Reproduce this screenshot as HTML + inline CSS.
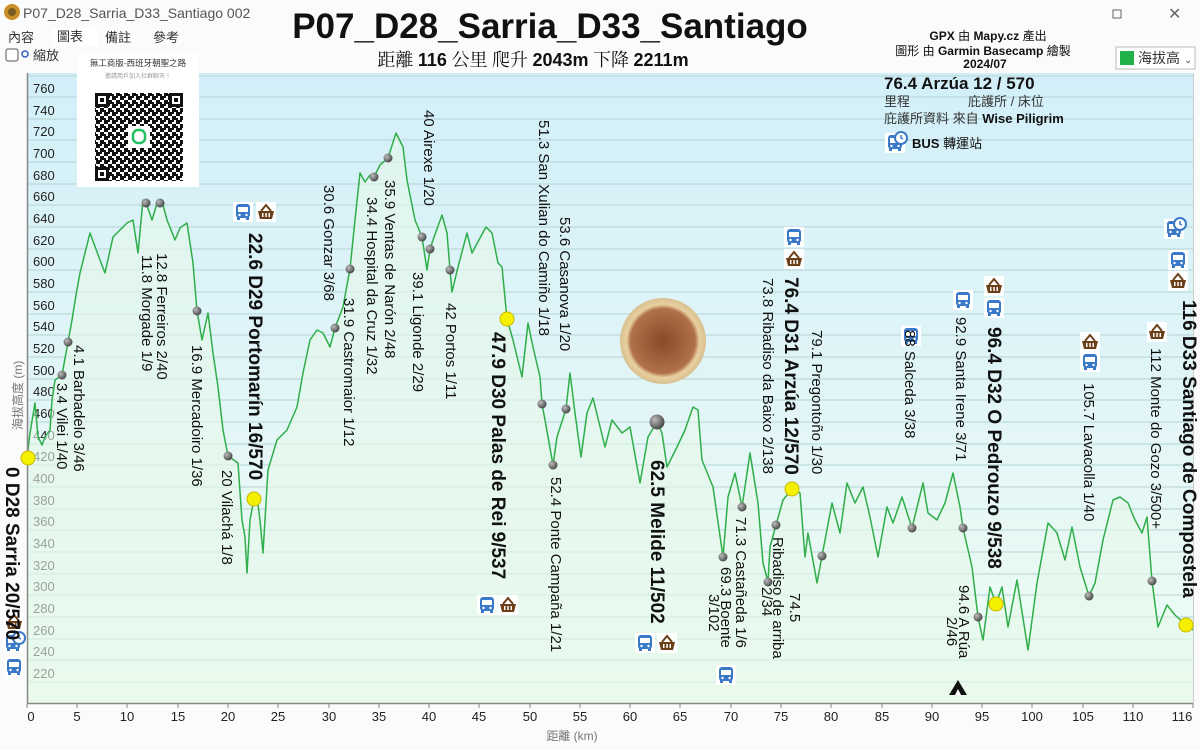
<!DOCTYPE html>
<html><head><meta charset="utf-8"><style>
html,body{margin:0;padding:0;width:1200px;height:750px;overflow:hidden;background:#fff;font-family:"Liberation Sans","Noto Sans CJK TC",sans-serif;}
</style></head><body>
<svg width="1200" height="750" viewBox="0 0 1200 750" xmlns="http://www.w3.org/2000/svg" font-family="Liberation Sans, Noto Sans CJK TC, sans-serif">
<defs>
<linearGradient id="sky" x1="0" y1="0" x2="0" y2="1">
<stop offset="0" stop-color="#d2eff9"/><stop offset="0.55" stop-color="#e3f6f7"/><stop offset="1" stop-color="#eefcf2"/>
</linearGradient>
<radialGradient id="gdot" cx="0.35" cy="0.35" r="0.7"><stop offset="0" stop-color="#bbb"/><stop offset="1" stop-color="#444"/></radialGradient>
<radialGradient id="food" cx="0.5" cy="0.5" r="0.5"><stop offset="0" stop-color="#8a4a2a"/><stop offset="0.75" stop-color="#b0704a"/><stop offset="0.85" stop-color="#e8d0a0"/><stop offset="1" stop-color="#d8c090"/></radialGradient>
<pattern id="qr" width="8" height="8" patternUnits="userSpaceOnUse">
<rect width="8" height="8" fill="#fff"/><rect x="0" y="0" width="4" height="4" fill="#111"/><rect x="4" y="4" width="4" height="4" fill="#111"/><rect x="4" y="0" width="2" height="2" fill="#111"/><rect x="0" y="6" width="2" height="2" fill="#111"/>
</pattern>
<g id="bus"><rect x="-10" y="-10" width="20" height="20" fill="#fff"/><rect x="-7" y="-8" width="14" height="14" rx="3" fill="#3a78c8"/><rect x="-5" y="-5" width="10" height="5" fill="#fff"/><rect x="-6" y="5" width="3" height="3" fill="#3a78c8"/><rect x="3" y="5" width="3" height="3" fill="#3a78c8"/><circle cx="-3.5" cy="3" r="1.2" fill="#fff"/><circle cx="3.5" cy="3" r="1.2" fill="#fff"/></g>
<g id="bask"><rect x="-10" y="-10" width="20" height="20" fill="#fff"/><path d="M-8,-1 L8,-1 L6,7 L-6,7 Z" fill="#6b3f18"/><path d="M-5,-1 L0,-7 L5,-1" stroke="#6b3f18" stroke-width="2" fill="none"/><rect x="-4" y="1" width="1.5" height="4" fill="#fff"/><rect x="-0.7" y="1" width="1.5" height="4" fill="#fff"/><rect x="2.5" y="1" width="1.5" height="4" fill="#fff"/></g>
<g id="busc"><use href="#bus"/><circle cx="6" cy="-5" r="6" fill="#fff" stroke="#3a78c8" stroke-width="2"/><path d="M6,-8 L6,-5 L8,-4" stroke="#3a78c8" stroke-width="1.5" fill="none"/></g>
</defs>

<!-- window chrome -->
<rect x="0" y="0" width="1200" height="750" fill="#fbfbfb"/>
<circle cx="12" cy="12" r="8" fill="#c8902a"/><circle cx="12" cy="12" r="4" fill="#7a5a20"/>
<text x="23" y="18" font-size="14" fill="#555">P07_D28_Sarria_D33_Santiago 002</text>
<rect x="1113" y="10" width="8" height="8" fill="none" stroke="#666"/>
<text x="1168" y="19" font-size="16" fill="#666">✕</text>
<rect x="52" y="28" width="46" height="18" fill="#fff"/>
<text x="8" y="42" font-size="13" fill="#333">內容</text>
<text x="57" y="41" font-size="13" fill="#333">圖表</text>
<text x="105" y="42" font-size="13" fill="#333">備註</text>
<text x="153" y="42" font-size="13" fill="#333">參考</text>
<rect x="6" y="49" width="12" height="12" rx="2" fill="#fff" stroke="#555"/>
<circle cx="25" cy="54" r="3" fill="none" stroke="#3060c0" stroke-width="1.5"/>
<text x="33" y="60" font-size="13" fill="#333">縮放</text>

<!-- plot area -->
<rect x="27" y="73" width="1166" height="630" fill="url(#sky)"/>
<g stroke="#b4d4d4" stroke-width="1">
<line x1="27" y1="76" x2="1193" y2="76"/>
<line x1="27" y1="97" x2="1193" y2="97"/><line x1="27" y1="119" x2="1193" y2="119"/><line x1="27" y1="140" x2="1193" y2="140"/><line x1="27" y1="162" x2="1193" y2="162"/><line x1="27" y1="184" x2="1193" y2="184"/><line x1="27" y1="205" x2="1193" y2="205"/><line x1="27" y1="227" x2="1193" y2="227"/><line x1="27" y1="249" x2="1193" y2="249"/><line x1="27" y1="270" x2="1193" y2="270"/><line x1="27" y1="292" x2="1193" y2="292"/><line x1="27" y1="314" x2="1193" y2="314"/><line x1="27" y1="335" x2="1193" y2="335"/><line x1="27" y1="357" x2="1193" y2="357"/><line x1="27" y1="379" x2="1193" y2="379"/><line x1="27" y1="400" x2="1193" y2="400"/><line x1="27" y1="422" x2="1193" y2="422"/><line x1="27" y1="444" x2="1193" y2="444"/><line x1="27" y1="465" x2="1193" y2="465"/><line x1="27" y1="487" x2="1193" y2="487"/><line x1="27" y1="509" x2="1193" y2="509"/><line x1="27" y1="530" x2="1193" y2="530"/><line x1="27" y1="552" x2="1193" y2="552"/><line x1="27" y1="574" x2="1193" y2="574"/><line x1="27" y1="595" x2="1193" y2="595"/><line x1="27" y1="617" x2="1193" y2="617"/><line x1="27" y1="639" x2="1193" y2="639"/><line x1="27" y1="660" x2="1193" y2="660"/><line x1="27" y1="682" x2="1193" y2="682"/>
</g>
<g font-size="13" fill="#222">
<text x="33" y="93">760</text><text x="33" y="115">740</text><text x="33" y="136">720</text><text x="33" y="158">700</text><text x="33" y="180">680</text><text x="33" y="201">660</text><text x="33" y="223">640</text><text x="33" y="245">620</text><text x="33" y="266">600</text><text x="33" y="288">580</text><text x="33" y="310">560</text><text x="33" y="331">540</text><text x="33" y="353">520</text><text x="33" y="375">500</text><text x="33" y="396">480</text><text x="33" y="418">460</text><text x="33" y="440">440</text><text x="33" y="461">420</text><text x="33" y="483">400</text><text x="33" y="505">380</text><text x="33" y="526">360</text><text x="33" y="548">340</text><text x="33" y="570">320</text><text x="33" y="591">300</text><text x="33" y="613">280</text><text x="33" y="635">260</text><text x="33" y="656">240</text><text x="33" y="678">220</text>
</g>
<text transform="translate(22,430) rotate(-90)" font-size="12" fill="#777">海拔高度 (m)</text>

<!-- profile -->
<path d="M27,458 L30,433 35,403 38,437 42,445 45,437 50,430 52,400 55,380 62,375 68,342 72,320 76,295 80,273 90,233 100,260 105,273 113,237 120,230 127,223 133,220 138,253 143,200 146,203 152,220 158,200 160,203 163,205 167,220 175,240 180,228 187,223 193,263 197,311 202,340 208,313 213,353 218,387 223,430 228,456 238,463 242,520 245,537 247,573 250,520 254,499 258,505 260,520 263,553 268,470 277,440 287,430 297,407 303,373 310,340 317,330 323,333 330,347 335,328 343,307 350,269 355,220 360,173 365,182 370,175 374,177 380,165 388,158 396,133 403,147 407,180 415,220 422,237 427,270 430,249 433,240 442,215 447,233 450,270 452,292 458,267 467,233 472,253 480,238 486,227 492,233 498,263 502,267 507,319 513,340 522,377 528,323 533,347 540,377 542,404 545,420 553,465 557,437 566,409 570,373 575,413 581,457 587,413 593,398 605,447 612,420 622,433 630,427 640,483 648,437 657,422 662,433 667,467 677,447 685,430 693,407 698,410 702,460 713,487 723,557 728,497 735,473 742,507 750,453 758,503 763,563 768,582 770,547 776,525 783,500 792,489 800,493 805,557 808,533 817,583 822,556 832,503 840,533 847,483 855,503 863,487 870,517 878,557 887,507 893,523 902,497 912,528 923,483 928,513 937,520 945,503 953,473 960,507 963,528 972,567 978,617 983,640 990,587 996,604 1002,587 1008,627 1017,580 1028,650 1037,583 1048,523 1057,533 1065,560 1072,527 1080,567 1089,596 1095,583 1103,540 1113,500 1120,497 1128,503 1135,520 1142,533 1147,517 1152,581 1158,627 1167,605 1175,615 1186,625 1193,630 L1193,703 L27,703 Z" fill="#e6f9ea" fill-opacity="0.6" stroke="none"/>
<path d="M27,458 L30,433 35,403 38,437 42,445 45,437 50,430 52,400 55,380 62,375 68,342 72,320 76,295 80,273 90,233 100,260 105,273 113,237 120,230 127,223 133,220 138,253 143,200 146,203 152,220 158,200 160,203 163,205 167,220 175,240 180,228 187,223 193,263 197,311 202,340 208,313 213,353 218,387 223,430 228,456 238,463 242,520 245,537 247,573 250,520 254,499 258,505 260,520 263,553 268,470 277,440 287,430 297,407 303,373 310,340 317,330 323,333 330,347 335,328 343,307 350,269 355,220 360,173 365,182 370,175 374,177 380,165 388,158 396,133 403,147 407,180 415,220 422,237 427,270 430,249 433,240 442,215 447,233 450,270 452,292 458,267 467,233 472,253 480,238 486,227 492,233 498,263 502,267 507,319 513,340 522,377 528,323 533,347 540,377 542,404 545,420 553,465 557,437 566,409 570,373 575,413 581,457 587,413 593,398 605,447 612,420 622,433 630,427 640,483 648,437 657,422 662,433 667,467 677,447 685,430 693,407 698,410 702,460 713,487 723,557 728,497 735,473 742,507 750,453 758,503 763,563 768,582 770,547 776,525 783,500 792,489 800,493 805,557 808,533 817,583 822,556 832,503 840,533 847,483 855,503 863,487 870,517 878,557 887,507 893,523 902,497 912,528 923,483 928,513 937,520 945,503 953,473 960,507 963,528 972,567 978,617 983,640 990,587 996,604 1002,587 1008,627 1017,580 1028,650 1037,583 1048,523 1057,533 1065,560 1072,527 1080,567 1089,596 1095,583 1103,540 1113,500 1120,497 1128,503 1135,520 1142,533 1147,517 1152,581 1158,627 1167,605 1175,615 1186,625 1193,630" fill="none" stroke="#2fae4a" stroke-width="1.5" stroke-linejoin="round"/>

<!-- axes -->
<line x1="27.5" y1="73" x2="27.5" y2="704" stroke="#888" stroke-width="1.5"/>
<line x1="27" y1="703.5" x2="1194" y2="703.5" stroke="#888" stroke-width="1.5"/>
<line x1="1193.5" y1="73" x2="1193.5" y2="704" stroke="#ccc"/>
<g stroke="#888"><line x1="27" y1="704" x2="27" y2="708"/><line x1="77" y1="704" x2="77" y2="708"/><line x1="127" y1="704" x2="127" y2="708"/><line x1="178" y1="704" x2="178" y2="708"/><line x1="228" y1="704" x2="228" y2="708"/><line x1="278" y1="704" x2="278" y2="708"/><line x1="329" y1="704" x2="329" y2="708"/><line x1="379" y1="704" x2="379" y2="708"/><line x1="429" y1="704" x2="429" y2="708"/><line x1="479" y1="704" x2="479" y2="708"/><line x1="530" y1="704" x2="530" y2="708"/><line x1="580" y1="704" x2="580" y2="708"/><line x1="630" y1="704" x2="630" y2="708"/><line x1="680" y1="704" x2="680" y2="708"/><line x1="731" y1="704" x2="731" y2="708"/><line x1="781" y1="704" x2="781" y2="708"/><line x1="831" y1="704" x2="831" y2="708"/><line x1="882" y1="704" x2="882" y2="708"/><line x1="932" y1="704" x2="932" y2="708"/><line x1="982" y1="704" x2="982" y2="708"/><line x1="1032" y1="704" x2="1032" y2="708"/><line x1="1083" y1="704" x2="1083" y2="708"/><line x1="1133" y1="704" x2="1133" y2="708"/><line x1="1193" y1="704" x2="1193" y2="708"/></g>
<g font-size="13" fill="#222" text-anchor="middle">
<text x="31" y="721">0</text><text x="77" y="721">5</text><text x="127" y="721">10</text><text x="178" y="721">15</text><text x="228" y="721">20</text><text x="278" y="721">25</text><text x="329" y="721">30</text><text x="379" y="721">35</text><text x="429" y="721">40</text><text x="479" y="721">45</text><text x="530" y="721">50</text><text x="580" y="721">55</text><text x="630" y="721">60</text><text x="680" y="721">65</text><text x="731" y="721">70</text><text x="781" y="721">75</text><text x="831" y="721">80</text><text x="882" y="721">85</text><text x="932" y="721">90</text><text x="982" y="721">95</text><text x="1032" y="721">100</text><text x="1083" y="721">105</text><text x="1133" y="721">110</text><text x="1182" y="721">116</text>
</g>
<text x="572" y="740" font-size="12" fill="#777" text-anchor="middle">距離 (km)</text>

<!-- header -->
<text x="550" y="38" font-size="35" font-weight="bold" fill="#111" text-anchor="middle">P07_D28_Sarria_D33_Santiago</text>
<text x="533" y="66" font-size="18" fill="#111" text-anchor="middle" font-family="Liberation Serif, Noto Serif CJK SC, serif">距離 <tspan font-weight="bold" font-family="Liberation Sans, sans-serif">116</tspan> 公里 爬升 <tspan font-weight="bold" font-family="Liberation Sans, sans-serif">2043m</tspan> 下降 <tspan font-weight="bold" font-family="Liberation Sans, sans-serif">2211m</tspan></text>
<g font-size="12" fill="#111" text-anchor="middle">
<text x="988" y="40"><tspan font-weight="bold">GPX</tspan> 由 <tspan font-weight="bold">Mapy.cz</tspan>  產出</text>
<text x="983" y="55">圖形 由 <tspan font-weight="bold">Garmin Basecamp</tspan> 繪製</text>
<text x="985" y="68" font-weight="bold">2024/07</text>
</g>
<rect x="1116" y="47" width="79" height="22" fill="#fff" stroke="#bbb"/>
<rect x="1120" y="51" width="14" height="14" fill="#22b04a"/>
<text x="1138" y="63" font-size="14" fill="#333">海拔高</text>
<text x="1184" y="63" font-size="10" fill="#555">⌄</text>
<text x="884" y="89" font-size="17" font-weight="bold" fill="#111">76.4 Arzúa 12 / 570</text>
<text x="884" y="106" font-size="13" fill="#333">里程</text>
<text x="968" y="106" font-size="13" fill="#333">庇護所 / 床位</text>
<text x="884" y="123" font-size="13" fill="#333">庇護所資料 來自 <tspan font-weight="bold" fill="#111">Wise Piligrim</tspan></text>
<use href="#busc" x="895" y="143"/>
<text x="912" y="148" font-size="13" fill="#111"><tspan font-weight="bold">BUS</tspan> 轉運站</text>

<!-- QR box -->
<rect x="77" y="53" width="122" height="134" fill="#fff"/>
<text x="138" y="66" font-size="8.5" fill="#333" text-anchor="middle">無工商版-西班牙朝聖之路</text>
<text x="138" y="78" font-size="6" fill="#999" text-anchor="middle">邀請用戶加入社群聊天！</text>
<rect x="95" y="93" width="88" height="88" fill="url(#qr)"/>
<rect x="95" y="93" width="14" height="14" fill="#111"/><rect x="98" y="96" width="8" height="8" fill="#fff"/><rect x="100" y="98" width="4" height="4" fill="#111"/>
<rect x="169" y="93" width="14" height="14" fill="#111"/><rect x="172" y="96" width="8" height="8" fill="#fff"/><rect x="174" y="98" width="4" height="4" fill="#111"/>
<rect x="95" y="167" width="14" height="14" fill="#111"/><rect x="98" y="170" width="8" height="8" fill="#fff"/><rect x="100" y="172" width="4" height="4" fill="#111"/>
<rect x="128" y="126" width="22" height="22" fill="#fff"/><rect x="133" y="130" width="12" height="13" rx="5" fill="none" stroke="#22c060" stroke-width="2.5"/>

<!-- food plate -->
<circle cx="663" cy="341" r="43" fill="url(#food)"/>

<!-- dots -->
<g fill="url(#gdot)">
<circle cx="62" cy="375" r="4.5"/><circle cx="68" cy="342" r="4.5"/><circle cx="146" cy="203" r="4.5"/><circle cx="160" cy="203" r="4.5"/><circle cx="197" cy="311" r="4.5"/><circle cx="228" cy="456" r="4.5"/><circle cx="335" cy="328" r="4.5"/><circle cx="350" cy="269" r="4.5"/><circle cx="374" cy="177" r="4.5"/><circle cx="388" cy="158" r="4.5"/><circle cx="422" cy="237" r="4.5"/><circle cx="430" cy="249" r="4.5"/><circle cx="450" cy="270" r="4.5"/><circle cx="542" cy="404" r="4.5"/><circle cx="553" cy="465" r="4.5"/><circle cx="566" cy="409" r="4.5"/><circle cx="723" cy="557" r="4.5"/><circle cx="742" cy="507" r="4.5"/><circle cx="768" cy="582" r="4.5"/><circle cx="776" cy="525" r="4.5"/><circle cx="822" cy="556" r="4.5"/><circle cx="912" cy="528" r="4.5"/><circle cx="963" cy="528" r="4.5"/><circle cx="978" cy="617" r="4.5"/><circle cx="1089" cy="596" r="4.5"/><circle cx="1152" cy="581" r="4.5"/><circle cx="657" cy="422" r="7.5"/>
</g>
<g fill="#f5f000" stroke="#c8b800" stroke-width="1">
<circle cx="28" cy="458" r="7"/><circle cx="254" cy="499" r="7"/><circle cx="507" cy="319" r="7"/><circle cx="792" cy="489" r="7"/><circle cx="996" cy="604" r="7"/><circle cx="1186" cy="625" r="7"/>
</g>

<!-- icons -->
<use href="#bus" x="243" y="212"/><use href="#bask" x="266" y="212"/>
<use href="#bask" x="14" y="622"/><use href="#busc" x="13" y="643"/><use href="#bus" x="14" y="667"/>
<use href="#bus" x="487" y="605"/><use href="#bask" x="508" y="605"/>
<use href="#bus" x="645" y="643"/><use href="#bask" x="667" y="643"/>
<use href="#bus" x="726" y="675"/>
<use href="#bus" x="794" y="237"/><use href="#bask" x="794" y="259"/>
<use href="#bus" x="911" y="336"/><use href="#bus" x="963" y="300"/>
<use href="#bask" x="994" y="286"/><use href="#bus" x="994" y="308"/>
<use href="#bask" x="1090" y="342"/><use href="#bus" x="1090" y="362"/>
<use href="#bask" x="1157" y="332"/>
<use href="#busc" x="1174" y="229"/><use href="#bus" x="1178" y="260"/><use href="#bask" x="1178" y="281"/>
<path d="M949,695 L958,680 L967,695 Z" fill="#111"/><path d="M955,695 L958,689 L961,695 Z" fill="#fff"/>

<!-- rotated labels -->
<g font-size="15" fill="#111">
<text transform="translate(57,383) rotate(90)">3.4 Vilei 1/40</text>
<text transform="translate(74,345) rotate(90)">4.1 Barbadelo 3/46</text>
<text transform="translate(142,255) rotate(90)">11.8 Morgade 1/9</text>
<text transform="translate(157,253) rotate(90)">12.8 Ferreiros 2/40</text>
<text transform="translate(192,345) rotate(90)">16.9 Mercadoiro 1/36</text>
<text transform="translate(222,470) rotate(90)">20 Vilachá 1/8</text>
<text transform="translate(324,185) rotate(90)">30.6  Gonzar 3/68</text>
<text transform="translate(344,298) rotate(90)">31.9 Castromaior 1/12</text>
<text transform="translate(367,197) rotate(90)">34.4 Hospital da Cruz 1/32</text>
<text transform="translate(385,180) rotate(90)">35.9 Ventas de Narón 2/48</text>
<text transform="translate(413,272) rotate(90)">39.1 Ligonde 2/29</text>
<text transform="translate(424,110) rotate(90)">40 Airexe 1/20</text>
<text transform="translate(446,303) rotate(90)">42 Portos 1/11</text>
<text transform="translate(539,120) rotate(90)">51.3 San Xulian do Camiño 1/18</text>
<text transform="translate(560,217) rotate(90)">53.6 Casanova 1/20</text>
<text transform="translate(551,477) rotate(90)">52.4 Ponte Campaña 1/21</text>
<text transform="translate(721,567) rotate(90)">69.3 Boente</text>
<text transform="translate(709,594) rotate(90)">3/102</text>
<text transform="translate(736,517) rotate(90)">71.3 Castañeda 1/6</text>
<text transform="translate(763,278) rotate(90)">73.8 Ribadiso da Baixo 2/138</text>
<text transform="translate(773,537) rotate(90)">Ribadiso de arriba</text>
<text transform="translate(790,593) rotate(90)">74.5</text>
<text transform="translate(762,587) rotate(90)">2/34</text>
<text transform="translate(812,330) rotate(90)">79.1 Pregontoño  1/30</text>
<text transform="translate(905,330) rotate(90)">88 Salceda  3/38</text>
<text transform="translate(956,317) rotate(90)">92.9 Santa Irene  3/71</text>
<text transform="translate(959,585) rotate(90)">94.6 A Rúa</text>
<text transform="translate(947,617) rotate(90)">2/46</text>
<text transform="translate(1084,383) rotate(90)">105.7 Lavacolla 1/40</text>
<text transform="translate(1151,348) rotate(90)">112 Monte do Gozo 3/500+</text>
</g>
<g font-size="19" font-weight="bold" fill="#111">
<text transform="translate(6,467) rotate(90)">0 D28 Sarria 20/570</text>
<text transform="translate(249,233) rotate(90)">22.6 D29 Portomarín 16/570</text>
<text transform="translate(492,332) rotate(90)">47.9 D30 Palas de Rei 9/537</text>
<text transform="translate(651,460) rotate(90)">62.5 Melide 11/502</text>
<text transform="translate(785,277) rotate(90)">76.4 D31 Arzúa 12/570</text>
<text transform="translate(988,327) rotate(90)">96.4 D32 O Pedrouzo 9/538</text>
<text transform="translate(1183,300) rotate(90)">116 D33 Santiago de Compostela</text>
</g>
</svg>
</body></html>
